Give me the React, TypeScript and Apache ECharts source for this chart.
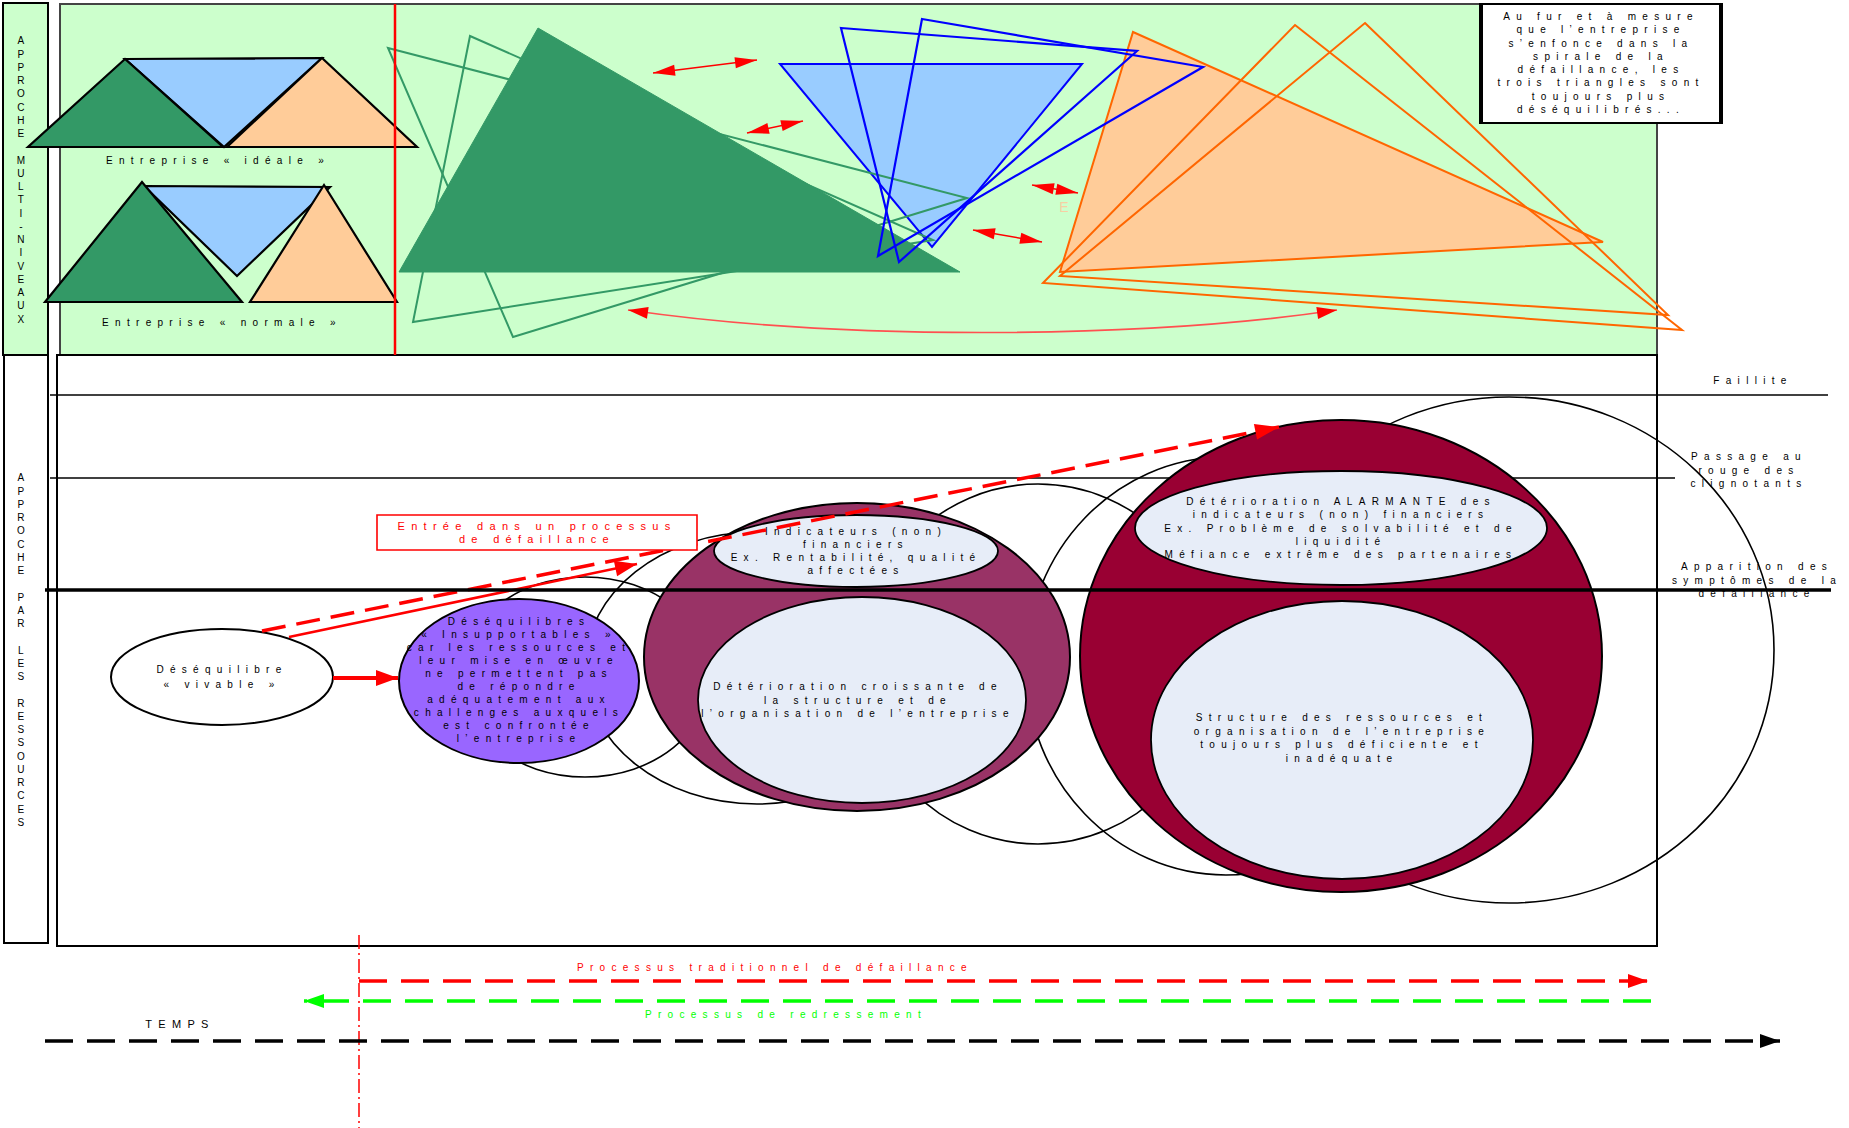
import React, { useEffect, useRef } from "react";
import * as echarts from "echarts";

const W = 1849;
const H = 1128;

// ---------- frames [x1, y1, x2, y2]
const frames = [
  [3, 3, 48, 355],
  [60, 4, 1657, 355],
  [4, 355, 48, 943],
  [57, 355, 1657, 946],
];
const frameFills = ["#ccffcc", "#ccffcc", "#ffffff", "#ffffff"];
const frameStrokes = ["#000000", "#444444", "#000000", "#000000"];

const sideLabels = ["APPROCHE MULTI-NIVEAUX", "APPROCHE PAR LES RESSOURCES"];
const sideLabelAnchors = [[24, 180], [24, 650]];

// ---------- top panel: reference triangles (blue, green, orange)
const idealTriangles = [
  [[125, 59], [322, 58], [224, 147]],
  [[125, 59], [28, 147], [223, 147]],
  [[322, 58], [227, 147], [417, 147]],
];
const normalTriangles = [
  [[144, 186], [330, 187], [237, 276]],
  [[142, 182], [45, 302], [242, 302]],
  [[324, 185], [250, 302], [397, 302]],
];
const smallTriangleFills = ["#99ccff", "#339966", "#ffcc99"];
const enterpriseLabels = ["Entreprise « idéale »", "Entreprise « normale »"];
const enterpriseLabelAnchors = [[218, 160], [222, 322]];

// ---------- top panel: drifting triangles
const blueFilled = [[[780, 64], [1082, 64], [932, 247]]];
const greenOutlines = [
  [[388, 48], [967, 198], [513, 337]],
  [[470, 36], [933, 240], [413, 322]],
];
const greenFilled = [[[538, 28], [399, 272], [960, 272]]];
const orangeFilled = [[[1133, 32], [1603, 242], [1060, 272]]];
const blueOutlines = [
  [[841, 28], [1137, 51], [899, 262]],
  [[922, 19], [1203, 67], [878, 256]],
];
const orangeOutlines = [
  [[1295, 25], [1682, 330], [1043, 283]],
  [[1365, 23], [1668, 315], [1060, 276]],
];
const separatorLine = [[[395, 4], [395, 355]]];
const doubleArrows = [
  [[653, 73], [757, 60]],
  [[747, 133], [803, 121]],
  [[1032, 185], [1078, 193]],
  [[973, 230], [1042, 242]],
];
const curvedArrows = [[[628, 310], [850, 342], [1150, 338], [1337, 310]]];
const ghostLetter = ["E"];
const ghostLetterAnchor = [[1067, 207]];

const noteBox = [[1480, 4, 1722, 123]];
const noteText = [
  "Au fur et à mesure\nque l’entreprise\ns’enfonce dans la\nspirale de la\ndéfaillance, les\ntrois triangles sont\ntoujours plus\ndéséquilibrés...",
];
const noteAnchor = [[1601, 63]];

// ---------- bottom panel
const thinLevels = [
  [[50, 395], [1828, 395]],
  [[50, 478], [1675, 478]],
];
const thickLevel = [[[45, 590], [1831, 590]]];
const levelLabels = [
  "Faillite",
  "Passage au\nrouge des\nclignotants",
  "Apparition des\nsymptômes de la\ndéfaillance",
];
const levelLabelAnchors = [[1753, 380], [1749, 470], [1757, 580]];

// [cx, cy, rx, ry]
const trailEllipses = [
  [1509, 650, 265, 253],
  [1226, 666, 200, 209],
  [1038, 664, 177, 180],
  [757, 668, 172, 136],
  [585, 677, 125, 100],
];
const stageEllipses = [
  [222, 677, 111, 48],
  [519, 681, 120, 82],
  [857, 657, 213, 154],
  [1341, 656, 261, 236],
];
const stageFills = ["#ffffff", "#9966ff", "#993366", "#990033"];
const innerEllipses = [
  [856, 551, 142, 36],
  [862, 700, 164, 103],
  [1341, 528, 206, 57],
  [1342, 740, 191, 139],
];
const stageTexts = [
  "Déséquilibre\n« vivable »",
  "Déséquilibres\n« Insupportables »\ncar les ressources et\nleur mise en œuvre\nne permettent pas\nde répondre\nadéquatement aux\nchallenges auxquels\nest confrontée\nl’entreprise",
  "Indicateurs (non)\nfinanciers\nEx. Rentabilité, qualité\naffectées",
  "Détérioration croissante de\nla structure et de\nl’organisation de l’entreprise",
  "Détérioration ALARMANTE des\nindicateurs (non) financiers\nEx. Problème de solvabilité et de\nliquidité\nMéfiance extrême des partenaires",
  "Structure des ressources et\norganisation de l’entreprise\ntoujours plus déficiente et\ninadéquate",
];
const stageTextAnchors = [[222, 677], [519, 680], [856, 551], [858, 700], [1341, 528], [1342, 738]];
const stageLineHeights = [15, 13.1, 13, 13.5, 13.3, 13.4];

const entryBox = [[377, 515, 697, 550]];
const entryText = ["Entrée dans un processus\nde défaillance"];
const entryAnchor = [[537, 532]];

const solidArrows = [
  [[333, 678], [398, 678]],
  [[289, 637], [637, 564]],
];
const solidArrowWidths = [4, 2.5];
const dashedRise = [[[262, 631], [1279, 427]]];

// ---------- time lines
const timeLines = [
  [[359, 981], [1648, 981]],
  [[1651, 1001], [304, 1001]],
  [[45, 1041], [1780, 1041]],
];
const timeColors = ["#ff0000", "#00ff00", "#000000"];
const timeLabels = ["Processus traditionnel de défaillance", "Processus de redressement", "TEMPS"];
const timeLabelAnchors = [[775, 967], [786, 1014], [180, 1024]];
const markerLine = [[[359, 935], [359, 1128]]];

// ---------------------------------------------------------------
const FONT = '"Liberation Sans", Arial, sans-serif';

function headPts(tip: number[], from: number[], len: number, hw: number) {
  const dx = tip[0] - from[0];
  const dy = tip[1] - from[1];
  const d = Math.hypot(dx, dy) || 1;
  const ux = dx / d;
  const uy = dy / d;
  const bx = tip[0] - ux * len;
  const by = tip[1] - uy * len;
  return [tip, [bx - uy * hw, by + ux * hw], [bx + uy * hw, by - ux * hw]];
}

function buildOption() {
  const series: any[] = [];
  let z = 1;
  const layer = (items: any[], draw: (it: any, i: number, api: any) => any) => {
    series.push({
      type: "custom",
      coordinateSystem: "cartesian2d",
      silent: true,
      clip: false,
      z: z++,
      data: items.map((_, i) => [i, 0]),
      renderItem: (params: any, api: any) => draw(items[params.dataIndex], params.dataIndex, api),
    });
  };
  const c = (api: any, p: number[]) => api.coord(p);
  const poly = (api: any, pts: number[][], style: any) => ({
    type: "polygon",
    shape: { points: pts.map((p) => c(api, p)) },
    style,
  });
  const ell = (api: any, e: number[], style: any) => {
    const o = c(api, [e[0], e[1]]);
    const s = api.size([e[2], e[3]]);
    return { type: "ellipse", shape: { cx: o[0], cy: o[1], rx: Math.abs(s[0]), ry: Math.abs(s[1]) }, style };
  };
  const seg = (api: any, a: number[], b: number[], style: any) => {
    const p = c(api, a);
    const q = c(api, b);
    return { type: "line", shape: { x1: p[0], y1: p[1], x2: q[0], y2: q[1] }, style };
  };
  const rect = (api: any, r: number[], style: any) => {
    const p = c(api, [r[0], r[1]]);
    const q = c(api, [r[2], r[3]]);
    return {
      type: "rect",
      shape: { x: Math.min(p[0], q[0]), y: Math.min(p[1], q[1]), width: Math.abs(q[0] - p[0]), height: Math.abs(q[1] - p[1]) },
      style,
    };
  };
  const txt = (api: any, p: number[], text: string, o: any = {}) => {
    const q = c(api, p);
    return {
      type: "text",
      style: {
        text,
        x: q[0],
        y: q[1],
        fill: o.fill || "#000000",
        fontSize: o.size || 10,
        fontFamily: FONT,
        lineHeight: o.lh || 13.3,
        align: "center",
        verticalAlign: "middle",
        textAlign: "center",
        textVerticalAlign: "middle",
      },
    };
  };
  const arrow = (api: any, a: number[], b: number[], lw: number, color: string, len: number, hw: number, dash?: number[], both?: boolean) => {
    const p = c(api, a);
    const q = c(api, b);
    const children: any[] = [
      {
        type: "line",
        shape: { x1: p[0], y1: p[1], x2: q[0], y2: q[1] },
        style: { stroke: color, lineWidth: lw, lineDash: dash || null, fill: null },
      },
      { type: "polygon", shape: { points: headPts(q, p, len, hw) }, style: { fill: color } },
    ];
    if (both) children.push({ type: "polygon", shape: { points: headPts(p, q, len, hw) }, style: { fill: color } });
    return { type: "group", children };
  };

  // frames
  layer(frames, (f, i, api) =>
    rect(api, f, { fill: frameFills[i], stroke: frameStrokes[i], lineWidth: 2 })
  );
  layer(sideLabels, (s, i, api) =>
    txt(api, sideLabelAnchors[i], s.split(" ").map((w: string) => w.split("").join("\n")).join("\n\n"), { lh: 13.25 })
  );

  // small triangles
  layer(idealTriangles, (t, i, api) =>
    poly(api, t, { fill: smallTriangleFills[i], stroke: "#000000", lineWidth: 2.2, lineJoin: "miter" })
  );
  layer(normalTriangles, (t, i, api) =>
    poly(api, t, { fill: smallTriangleFills[i], stroke: "#000000", lineWidth: 2.2, lineJoin: "miter" })
  );
  layer(enterpriseLabels, (s, i, api) => txt(api, enterpriseLabelAnchors[i], s));

  // drifting triangles
  layer(blueFilled, (t, i, api) => poly(api, t, { fill: "#99ccff", stroke: "#0000ff", lineWidth: 2 }));
  layer(greenOutlines, (t, i, api) => poly(api, t, { fill: null, stroke: "#339966", lineWidth: 2 }));
  layer(greenFilled, (t, i, api) => poly(api, t, { fill: "#339966", stroke: "#339966", lineWidth: 1 }));
  layer(orangeFilled, (t, i, api) => poly(api, t, { fill: "#ffcc99", stroke: "#ff6600", lineWidth: 2 }));
  layer(blueOutlines, (t, i, api) => poly(api, t, { fill: null, stroke: "#0000ff", lineWidth: 2.2 }));
  layer(orangeOutlines, (t, i, api) => poly(api, t, { fill: null, stroke: "#ff6600", lineWidth: 2 }));
  layer(separatorLine, (l, i, api) => seg(api, l[0], l[1], { stroke: "#ff0000", lineWidth: 2.5 }));
  layer(doubleArrows, (a, i, api) => arrow(api, a[0], a[1], 1.5, "#ff0000", 22, 5.5, undefined, true));
  layer(curvedArrows, (b, i, api) => {
    const p = b.map((pt: number[]) => c(api, pt));
    return {
      type: "group",
      children: [
        {
          type: "bezierCurve",
          shape: { x1: p[0][0], y1: p[0][1], cpx1: p[1][0], cpy1: p[1][1], cpx2: p[2][0], cpy2: p[2][1], x2: p[3][0], y2: p[3][1] },
          style: { stroke: "#ff5050", lineWidth: 1.6, fill: null },
        },
        { type: "polygon", shape: { points: headPts(p[0], p[1], 20, 6) }, style: { fill: "#ff0000" } },
        { type: "polygon", shape: { points: headPts(p[3], p[2], 20, 6) }, style: { fill: "#ff0000" } },
      ],
    };
  });
  layer(ghostLetter, (s, i, api) => txt(api, ghostLetterAnchor[i], s, { fill: "#f7cfa3", size: 14 }));
  layer(noteBox, (r, i, api) => ({
    type: "group",
    children: [
      rect(api, r, { fill: "#ffffff", stroke: "#000000", lineWidth: 2 }),
      seg(api, [r[0] + 1, r[1]], [r[0] + 1, r[3]], { stroke: "#000000", lineWidth: 4 }),
      seg(api, [r[2] - 1, r[1]], [r[2] - 1, r[3]], { stroke: "#000000", lineWidth: 4 }),
    ],
  }));
  layer(noteText, (s, i, api) => txt(api, noteAnchor[i], s, { lh: 13.3 }));

  // bottom panel
  layer(thinLevels, (l, i, api) => seg(api, l[0], l[1], { stroke: "#000000", lineWidth: 1.3 }));
  layer(trailEllipses, (e, i, api) => ell(api, e, { fill: null, stroke: "#000000", lineWidth: 1.6 }));
  layer(stageEllipses, (e, i, api) => ell(api, e, { fill: stageFills[i], stroke: "#000000", lineWidth: 2 }));
  layer(innerEllipses, (e, i, api) => ell(api, e, { fill: "#e7edf8", stroke: "#000000", lineWidth: 1.8 }));
  layer(stageTexts, (s, i, api) => txt(api, stageTextAnchors[i], s, { lh: stageLineHeights[i] }));
  layer(solidArrows, (a, i, api) => arrow(api, a[0], a[1], solidArrowWidths[i], "#ff0000", 22, 8));
  layer(dashedRise, (a, i, api) => arrow(api, a[0], a[1], 3.5, "#ff0000", 24, 8, [24, 11]));
  layer(entryBox, (r, i, api) => rect(api, r, { fill: "#ffffff", stroke: "#ff0000", lineWidth: 1.6 }));
  layer(entryText, (s, i, api) => txt(api, entryAnchor[i], s, { fill: "#ff0000", size: 11, lh: 13 }));
  layer(levelLabels, (s, i, api) => txt(api, levelLabelAnchors[i], s, { lh: 13.5 }));
  layer(thickLevel, (l, i, api) => seg(api, l[0], l[1], { stroke: "#000000", lineWidth: 3.6 }));

  // time lines
  layer(markerLine, (l, i, api) => seg(api, l[0], l[1], { stroke: "#ff0000", lineWidth: 1.5, lineDash: [14, 4, 2, 4] }));
  layer(timeLines, (l, i, api) => arrow(api, l[0], l[1], 3.5, timeColors[i], 20, 7, [28, 14]));
  layer(timeLabels, (s, i, api) => txt(api, timeLabelAnchors[i], s, { fill: timeColors[i], size: i === 2 ? 11 : 10 }));

  return {
    animation: false,
    backgroundColor: "#ffffff",
    grid: { left: 0, right: 0, top: 0, bottom: 0, containLabel: false },
    xAxis: { type: "value", min: 0, max: W, show: false },
    yAxis: { type: "value", min: 0, max: H, inverse: true, show: false },
    series,
  };
}

export default function App() {
  const ref = useRef<HTMLDivElement>(null);
  useEffect(() => {
    if (!ref.current) return;
    const chart = echarts.init(ref.current, undefined, { renderer: "svg" });
    chart.setOption(buildOption() as any);
    return () => chart.dispose();
  }, []);
  return (
    <>
      <style>{`html,body{margin:0;padding:0;overflow:hidden;background:#fff}#diagram svg text{letter-spacing:6.3px}`}</style>
      <div id="diagram" ref={ref} style={{ width: W, height: H }} />
    </>
  );
}
